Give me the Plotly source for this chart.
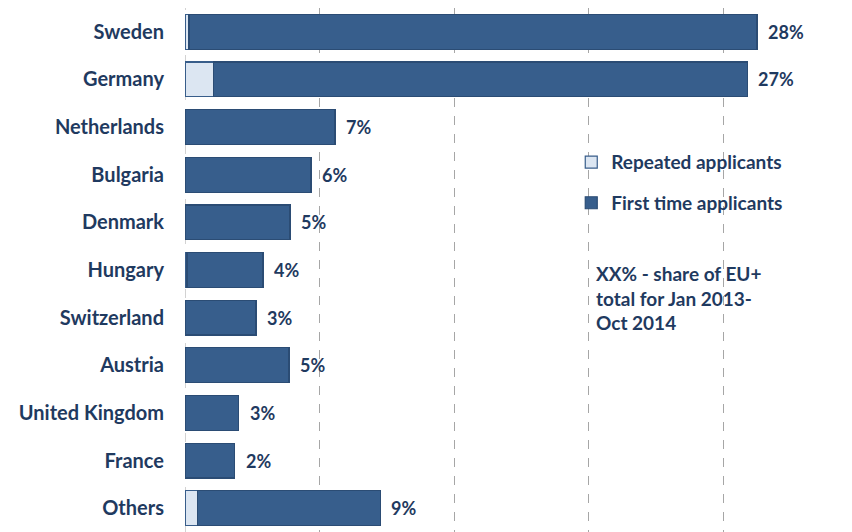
import plotly.graph_objects as go

countries = ["Sweden", "Germany", "Netherlands", "Bulgaria", "Denmark", "Hungary",
             "Switzerland", "Austria", "United Kingdom", "France", "Others"]
repeated = [300, 2100, 40, 60, 30, 150, 20, 30, 20, 20, 900]
first_time = [42200, 39700, 11100, 9310, 7770, 5650, 5260, 7700, 3980, 3680, 13600]
share_labels = ["28%", "27%", "7%", "6%", "5%", "4%", "3%", "5%", "3%", "2%", "9%"]

navy = "#1F3A60"
font_family = "Lato, 'Open Sans', sans-serif"

fig = go.Figure()
fig.add_trace(go.Bar(
    y=countries, x=repeated, orientation="h", name="Repeated applicants",
    marker=dict(color="#DCE6F2", line=dict(color="#385D8A", width=1.2)),
    legendgroup="a",
))
fig.add_trace(go.Bar(
    y=countries, x=first_time, orientation="h", name="First time applicants",
    marker=dict(color="#375E8C", line=dict(color="#2B4C74", width=1.2)),
    legendgroup="b",
))

totals = [r + f for r, f in zip(repeated, first_time)]
for c, t, lab in zip(countries, totals, share_labels):
    fig.add_annotation(x=t, y=c, text=lab, showarrow=False, xanchor="left",
                       xshift=9, font=dict(size=18, color=navy, family=font_family,
                                           weight="bold"))

fig.add_annotation(
    xref="paper", yref="paper", x=0.66, y=0.52, xanchor="left", yanchor="top",
    text="XX% - share of EU+<br>total for Jan 2013-<br>Oct 2014", showarrow=False, align="left",
    font=dict(size=19, color=navy, family=font_family, weight="bold"),
)

fig.add_shape(type="line", x0=0, x1=0, xref="x", yref="paper", y0=0, y1=1,
              line=dict(color="#A6A6A6", width=1, dash="dash"), layer="below")

fig.update_layout(
    width=844, height=524,
    margin=dict(l=177, r=48, t=0, b=0),
    barmode="stack", bargap=0.27,
    plot_bgcolor="white", paper_bgcolor="white",
    font=dict(family=font_family, color=navy),
    legend=dict(x=0.624, y=0.742, xanchor="left", yanchor="top",
                font=dict(size=19, color=navy, family=font_family, weight="bold"),
                tracegroupgap=13, bgcolor="rgba(0,0,0,0)"),
    xaxis=dict(range=[0, 46000], dtick=10000, showgrid=True, gridcolor="#A6A6A6",
               griddash="dash", gridwidth=1, showticklabels=False, zeroline=False,
               showline=False),
    yaxis=dict(autorange="reversed",
               tickfont=dict(size=20, color=navy, family=font_family, weight="bold"),
               ticks="", ticklabelstandoff=20, showline=False),
)

fig.write_html("out.html")
